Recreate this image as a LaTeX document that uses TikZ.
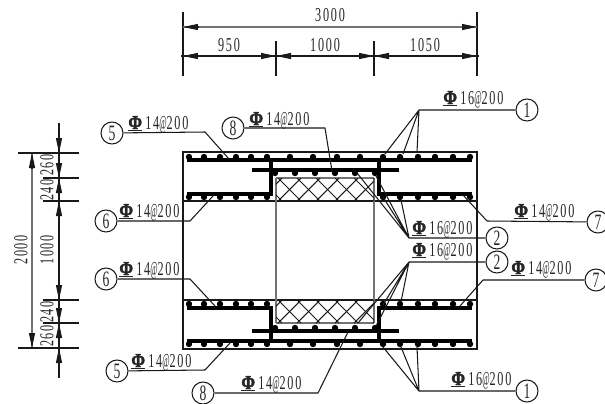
\documentclass[tikz,border=0pt]{standalone}
\usepackage{fontspec}
\setmainfont{Liberation Serif}[FakeStretch=0.62,LetterSpace=9]
\newfontfamily\barfont{Liberation Serif}[FakeStretch=0.84,FakeBold=2]
\usetikzlibrary{arrows.meta}
\newcommand{\rebarsym}{{\barfont\bfseries\rlap{\rule[-1.3pt]{7.6pt}{1pt}}Φ}}
\newcommand{\barat}{\scalebox{0.65}[1]{@}}
\tikzset{
  thinline/.style={line width=0.6pt,black!90},
  barline/.style={line width=2pt,black},
  grayline/.style={line width=0.75pt,black!55},
  dimtip/.style={thinline,-{Triangle[length=0.3cm,width=0.12cm]}},
  tagcircle/.style={draw,circle,thinline,text=black!85,minimum size=0.44cm,inner sep=0pt,font=\fontsize{12.5}{12.5}\selectfont},
  barlabel/.style={anchor=base west,inner sep=0pt,text=black!85,font=\fontsize{11.2}{12}\selectfont},
  dimtext/.style={inner sep=0pt,text=black!85,font=\fontsize{11.2}{12}\selectfont}
}
\begin{document}
\begin{tikzpicture}[x=0.02cm,y=-0.02cm]
	\useasboundingbox (0,0) rectangle (605,403);
	% section outline
	\draw [thinline] (183,152) rectangle (477,349);
	\draw [thinline] (183,201) -- (477,201);
	\draw [thinline] (183,300) -- (477,300);
	\draw [grayline] (276,178) -- (374,178) (276,323) -- (374,323) (276,178) -- (276,323) (374,178) -- (374,323);
	% insulation hatch
	\begin{scope}
		\clip (276,178) rectangle (374,201);
		\foreach \i in {240,259,...,390} {
			\draw [thinline] (\i,178) -- (\i+23,201);
			\draw [thinline] (\i+23,178) -- (\i,201);
		}
	\end{scope}
	\begin{scope}
		\clip (276,300) rectangle (374,323);
		\foreach \i in {240,259,...,390} {
			\draw [thinline] (\i,300) -- (\i+23,323);
			\draw [thinline] (\i+23,300) -- (\i,323);
		}
	\end{scope}
	% bars, top half
	\draw [barline] (187,160) -- (472,160);
	\draw [barline] (187,194) -- (271,194) -- (271,160);
	\draw [barline] (252,170) -- (399,170);
	\draw [barline] (379,160) -- (379,194) -- (472,194);
	% bars, bottom half
	\draw [barline] (187,341) -- (472,341);
	\draw [barline] (187,308) -- (271,308) -- (271,341);
	\draw [barline] (252,331) -- (399,331);
	\draw [barline] (379,341) -- (379,308) -- (472,308);
	% bar dots
	\foreach \x in {189,204,220,236,251,267,290,313,337,360,383,400,418,435,453,470} {
		\fill (\x,157) circle (3.2);
		\fill (\x,344) circle (3.2);
	}
	\foreach \x in {189,204,220,236,251,267,383,400,418,435,453,470} {
		\fill (\x,197) circle (3.2);
		\fill (\x,304) circle (3.2);
	}
	\foreach \x in {275,295,315,335,355,375} {
		\fill (\x,173) circle (3.2);
		\fill (\x,328) circle (3.2);
	}
	% top dimensions
	\node [dimtext] (dimAll) at (330,15) {3000};
	\node [dimtext] (dimA) at (229,45) {950};
	\node [dimtext] (dimB) at (325,45) {1000};
	\node [dimtext] (dimC) at (425,45) {1050};
	\draw [thinline] (183,12) -- (183,76);
	\draw [thinline] (477,12) -- (477,76);
	\draw [thinline] (276,41) -- (276,76);
	\draw [thinline] (374,41) -- (374,76);
	\draw [grayline] (183,27) -- (477,27);
	\draw [thinline] (181,56) -- (479,56);
	\foreach \xa/\xb in {198/183,462/477} {
		\draw [dimtip] (\xa,27) -- (\xb,27);
	}
	\foreach \xa/\xb in {198/183,261/276,291/276,359/374,389/374,462/477} {
		\draw [dimtip] (\xa,56) -- (\xb,56);
	}
	% left dimensions
	\node [dimtext,rotate=90] (dimH) at (21,250) {2000};
	\node [dimtext,rotate=90] (dimM) at (47,250) {1000};
	\node [dimtext,rotate=90] (dimT1) at (47,165) {260};
	\node [dimtext,rotate=90] (dimT2) at (47,190) {240};
	\node [dimtext,rotate=90] (dimB2) at (47,312) {240};
	\node [dimtext,rotate=90] (dimB1) at (47,336) {260};
	\draw [grayline] (32,153) -- (32,348);
	\draw [thinline] (59,123) -- (59,378);
	\draw [thinline] (18,153) -- (79,153);
	\draw [thinline] (18,348) -- (79,348);
	\foreach \y in {178,201,300,323} {
		\draw [thinline] (43,\y) -- (79,\y);
	}
	\draw [dimtip] (32,168) -- (32,153);
	\draw [dimtip] (32,333) -- (32,348);
	\foreach \ya/\yb in {138/153,163/178,192/178,216/201,285/300,308/323,338/323,363/348} {
		\draw [dimtip] (59,\ya) -- (59,\yb);
	}
	% tags
	\node [tagcircle] (tagFiveT) at (112,133) {5};
	\node [tagcircle] (tagSixT) at (106,221) {6};
	\node [tagcircle] (tagEightT) at (233,128) {8};
	\node [tagcircle] (tagOneT) at (527,110) {1};
	\node [tagcircle] (tagTwoT) at (497,238) {2};
	\node [tagcircle] (tagSevenT) at (598,222) {7};
	\node [tagcircle] (tagSixB) at (106,279) {6};
	\node [tagcircle] (tagFiveB) at (117,371) {5};
	\node [tagcircle] (tagEightB) at (203,393) {8};
	\node [tagcircle] (tagTwoB) at (497,262) {2};
	\node [tagcircle] (tagSevenB) at (596,280) {7};
	\node [tagcircle] (tagOneB) at (527,391) {1};
	% tag labels
	\node [barlabel] (txtFiveT) at (128,129) {\rebarsym\,14\barat 200};
	\node [barlabel] (txtSixT) at (119,217) {\rebarsym\,14\barat 200};
	\node [barlabel] (txtEightT) at (249,125) {\rebarsym\,14\barat 200};
	\node [barlabel] (txtOneT) at (443,104) {\rebarsym\,16\barat 200};
	\node [barlabel] (txtTwoT) at (412,234) {\rebarsym\,16\barat 200};
	\node [barlabel] (txtSevenT) at (514,217) {\rebarsym\,14\barat 200};
	\node [barlabel] (txtSixB) at (119,275) {\rebarsym\,14\barat 200};
	\node [barlabel] (txtFiveB) at (131,367) {\rebarsym\,14\barat 200};
	\node [barlabel] (txtEightB) at (241,389) {\rebarsym\,14\barat 200};
	\node [barlabel] (txtTwoB) at (412,256) {\rebarsym\,16\barat 200};
	\node [barlabel] (txtSevenB) at (511,274) {\rebarsym\,14\barat 200};
	\node [barlabel] (txtOneB) at (451,385) {\rebarsym\,16\barat 200};
	% leaders
	\draw [thinline] (tagFiveT) -- (205,132) -- (229,159);
	\draw [thinline] (tagSixT) -- (190,221) -- (213,196);
	\draw [thinline] (tagEightT) -- (325,128) -- (332,171);
	\draw [thinline] (tagOneT) -- (419,110) -- (385,154) (419,110) -- (403,154) (419,110) -- (417,152);
	\draw [thinline] (tagTwoT) -- (409,238) -- (357,173) (409,238) -- (376,176) (409,238) -- (383,197) (409,238) -- (401,200);
	\draw [thinline] (tagSevenT) -- (487,221) -- (463,195);
	\draw [thinline] (tagSixB) -- (190,279) -- (215,306);
	\draw [thinline] (tagFiveB) -- (205,370) -- (230,343);
	\draw [thinline] (tagEightB) -- (318,393) -- (348,332);
	\draw [thinline] (tagTwoB) -- (409,262) -- (358,323) (409,262) -- (376,326) (409,262) -- (383,305) (409,262) -- (401,302);
	\draw [thinline] (tagSevenB) -- (483,280) -- (460,306);
	\draw [thinline] (tagOneB) -- (419,391) -- (383,347) (419,391) -- (401,347) (419,391) -- (417,347);
\end{tikzpicture}
\end{document}
